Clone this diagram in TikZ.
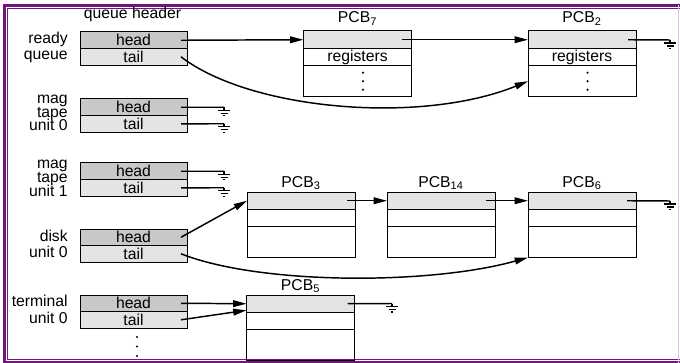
\documentclass[tikz,border=0pt]{standalone}
\usepackage{amsmath}
\usepackage{fontspec}
\setmainfont{Liberation Sans}
\usetikzlibrary{positioning,calc,arrows.meta}

\definecolor{headgray}{RGB}{200,200,200}
\definecolor{tailgray}{RGB}{228,228,228}
\definecolor{framepurple}{RGB}{112,22,120}

\begin{document}
\begin{tikzpicture}[x=0.75pt,y=0.75pt,yscale=-1,xscale=1,
    font=\fontsize{11.8}{14}\selectfont,
    qrow/.style={draw,line width=0.75pt,minimum width=80.25pt,minimum height=12.4pt,inner sep=0pt,outer sep=0pt},
    pcbrow/.style={draw,line width=0.75pt,minimum width=81pt,minimum height=13.1pt,inner sep=0pt,outer sep=0pt},
    pcbrest/.style={draw,line width=0.75pt,minimum width=81pt,minimum height=22.9pt,inner sep=0pt,outer sep=0pt},
    qlabel/.style={anchor=base east,inner sep=0.75pt},
    pcblabel/.style={anchor=base,inner sep=0.75pt},
    link/.style={line width=1.1pt,-{Triangle[length=10pt,width=5pt]}},
    nil/.style={line width=1.1pt},
    ground/.pic={\draw[line width=1pt] (0,0) -- (0,-3) (-6,-3) -- (6,-3) (-3.5,-6) -- (3.5,-6) (-1,-8.5) -- (1,-8.5);}
]
\useasboundingbox (0,0) rectangle (680,363);

%Shape: Frame
\draw[framepurple,line width=2.25pt] (4.5,5.5) rectangle (700,362.5);
\draw[framepurple,line width=0.75pt] (7.5,9) rectangle (700,359.5);
\draw[framepurple!25,line width=0.75pt] (678.5,5) -- (678.5,363);

% Text Node
\node[anchor=base,inner sep=0.75pt] (qhdr) at (132.5,19) {queue header};

%Shape: queue headers
\node[qrow,fill=headgray,anchor=north] (rqh) at (133.5,32) {head};
\node[qrow,fill=tailgray,below=0pt of rqh] (rqt) {tail};
\node[qrow,fill=headgray,anchor=north] (m0h) at (133.5,99) {head};
\node[qrow,fill=tailgray,below=0pt of m0h] (m0t) {tail};
\node[qrow,fill=headgray,anchor=north] (m1h) at (133.5,163) {head};
\node[qrow,fill=tailgray,below=0pt of m1h] (m1t) {tail};
\node[qrow,fill=headgray,anchor=north] (dkh) at (133.5,229) {head};
\node[qrow,fill=tailgray,below=0pt of dkh] (dkt) {tail};
\node[qrow,fill=headgray,anchor=north] (tmh) at (133.5,295) {head};
\node[qrow,fill=tailgray,below=0pt of tmh] (tmt) {tail};

% Text Node
\node[qlabel] (lrdy) at (69,43.5) {ready};
\node[qlabel] (lque) at (69,60) {queue};
\node[qlabel] (lmag0) at (69,104) {mag};
\node[qlabel] (ltap0) at (69,117.5) {tape};
\node[qlabel] (lunt0) at (69,131) {unit 0};
\node[qlabel] (lmag1) at (69,169) {mag};
\node[qlabel] (ltap1) at (69,182.5) {tape};
\node[qlabel] (lunt1) at (69,196) {unit 1};
\node[qlabel] (ldsk) at (69,241) {disk};
\node[qlabel] (ldku) at (69,257.5) {unit 0};
\node[qlabel] (ltrm) at (69,306.5) {terminal};
\node[qlabel] (ltmu) at (69,323) {unit 0};

%Shape: PCBs
\node[pcbrow,fill=tailgray,anchor=north] (p7a) at (357.5,31) {};
\node[pcbrow,below=0pt of p7a] (p7b) {registers};
\node[pcbrest,below=0pt of p7b] (p7c) {};
\node[pcbrow,fill=tailgray,anchor=north] (p2a) at (582,31) {};
\node[pcbrow,below=0pt of p2a] (p2b) {registers};
\node[pcbrest,below=0pt of p2b] (p2c) {};
\node[pcbrow,fill=tailgray,anchor=north] (p3a) at (301,192) {};
\node[pcbrow,below=0pt of p3a] (p3b) {};
\node[pcbrest,below=0pt of p3b] (p3c) {};
\node[pcbrow,fill=tailgray,anchor=north] (p14a) at (441,192) {};
\node[pcbrow,below=0pt of p14a] (p14b) {};
\node[pcbrest,below=0pt of p14b] (p14c) {};
\node[pcbrow,fill=tailgray,anchor=north] (p6a) at (582,192) {};
\node[pcbrow,below=0pt of p6a] (p6b) {};
\node[pcbrest,below=0pt of p6b] (p6c) {};
\node[pcbrow,fill=tailgray,anchor=north] (p5a) at (300.5,295) {};
\node[pcbrow,below=0pt of p5a] (p5b) {};
\node[pcbrest,below=0pt of p5b] (p5c) {};

% Text Node
\node[pcblabel] (l7) at ($(p7a.north)+(0,-8)$) {PCB\textsubscript{7}};
\node[pcblabel] (l2) at ($(p2a.north)+(0,-8)$) {PCB\textsubscript{2}};
\node[pcblabel] (l3) at ($(p3a.north)+(0,-5)$) {PCB\textsubscript{3}};
\node[pcblabel] (l14) at ($(p14a.north)+(0,-5)$) {PCB\textsubscript{14}};
\node[pcblabel] (l6) at ($(p6a.north)+(0,-5)$) {PCB\textsubscript{6}};
\node[pcblabel] (l5) at ($(p5a.north)+(0,-5)$) {PCB\textsubscript{5}};

%Shape: dots
\foreach \k in {-8.5,0,8.5} {
  \fill ($(p7c.center)+(5.5,\k)$) circle (1.2);
  \fill ($(p2c.center)+(5.5,\k)$) circle (1.2);
}
\foreach \k in {337,346.5,356} \fill (137,\k) circle (1.2);

%Shape: ground ends
\coordinate (g2) at (670,40);
\coordinate (gm0h) at (224,107.25);
\coordinate (gm0t) at (224,123.75);
\coordinate (gm1h) at (224,171.25);
\coordinate (gm1t) at (224,187.75);
\coordinate (g6) at (670,201);
\coordinate (g5) at (392,303.5);

%Straight Lines: ready queue
\draw[link] ($(rqh.east)+(-6,0)$) -- (p7a.west);
\draw[link] ($(p7a.east)+(-10,0)$) -- (p2a.west);
\draw[nil] ($(p2a.east)+(-8,0)$) -- (g2);
\draw[link] ($(rqt.east)+(-6,0)$) .. controls (250,110) and (420,125) .. (p2c.west);

%Straight Lines: mag tapes
\draw[nil] ($(m0h.east)+(-6,0)$) -- (gm0h);
\draw[nil] ($(m0t.east)+(-6,0)$) -- (gm0t);
\draw[nil] ($(m1h.east)+(-6,0)$) -- (gm1h);
\draw[nil] ($(m1t.east)+(-6,0)$) -- (gm1t);

%Straight Lines: disk
\draw[link] ($(dkh.east)+(-6,0)$) -- (p3a.west);
\draw[link] ($(p3a.east)+(-8,0)$) -- (p14a.west);
\draw[link] ($(p14a.east)+(-9,0)$) -- (p6a.west);
\draw[nil] ($(p6a.east)+(-9,0)$) -- (g6);
\draw[link] ($(dkt.east)+(-6,0)$) .. controls (260,285) and (430,285) .. (p6c.south west);

%Straight Lines: terminal
\draw[link] ($(tmh.east)+(-6,0)$) -- (p5a.west);
\draw[link] ($(tmt.east)+(-6,0)$) -- ($(p5a.west)!0.75!(p5a.south west)$);
\draw[nil] ($(p5a.east)+(-7,0)$) -- (g5);

\foreach \g in {g2,gm0h,gm0t,gm1h,gm1t,g6,g5} \pic at (\g) {ground};

\end{tikzpicture}
\end{document}
